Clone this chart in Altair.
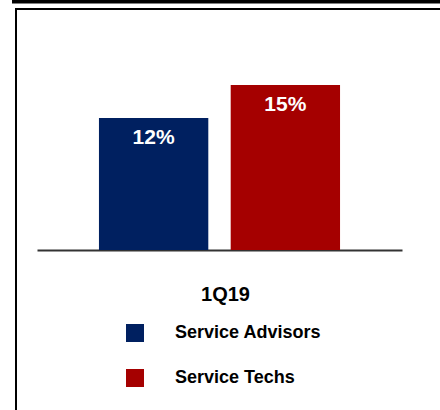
import altair as alt
import pandas as pd

periods = ["1Q19", "1Q19"]
series = ["Service Advisors", "Service Techs"]
values = [12, 15]
colors = ["#002060", "#A50000"]

df = pd.DataFrame({"period": periods, "series": series, "value": values})
df["label"] = [f"{v}%" for v in values]

FONT = "Liberation Sans"

base = alt.Chart(df)

x_enc = alt.X(
    "period:N",
    scale=alt.Scale(paddingInner=0, paddingOuter=0.257),
    axis=alt.Axis(
        title=None,
        ticks=False,
        domainColor="#333333",
        domainWidth=2,
        labelFont=FONT,
        labelFontSize=20,
        labelFontWeight="bold",
        labelColor="#000000",
        labelPadding=34,
        labelOffset=6,
        labelAngle=0,
    ),
)
xo_enc = alt.XOffset(
    "series:N",
    sort=series,
    scale=alt.Scale(paddingInner=0.17, paddingOuter=0),
)
y_enc = alt.Y(
    "value:Q",
    scale=alt.Scale(domain=[0, 20], nice=False, zero=True),
    axis=None,
)

bars = base.mark_bar().encode(
    x=x_enc,
    xOffset=xo_enc,
    y=y_enc,
    color=alt.Color(
        "series:N",
        sort=series,
        scale=alt.Scale(domain=series, range=colors),
        legend=alt.Legend(
            title=None,
            orient="none",
            legendX=89,
            legendY=294,
            direction="vertical",
            symbolType="square",
            symbolSize=324,
            symbolStrokeWidth=0,
            symbolOpacity=1,
            labelFont=FONT,
            labelFontSize=18,
            labelFontWeight="bold",
            labelColor="#000000",
            labelOffset=31,
            labelLimit=400,
            rowPadding=27,
            padding=0,
        ),
    ),
)

labels = base.mark_text(
    color="white",
    font=FONT,
    fontSize=21,
    fontWeight="bold",
    baseline="top",
    align="center",
    dy=9,
).encode(
    x=alt.X("period:N"),
    xOffset=alt.XOffset("series:N", sort=series),
    y=alt.Y("value:Q"),
    text="label:N",
)

one = alt.Data(values=[{"a": 1}])

top_bar = alt.Chart(one).mark_rule(color="#000000", strokeWidth=3.5).encode(
    x=alt.value(-25), x2=alt.value(403), y=alt.value(-28.3)
)
frame_top = alt.Chart(one).mark_rule(color="#000000", strokeWidth=2).encode(
    x=alt.value(-22), x2=alt.value(403), y=alt.value(-21)
)
frame_left = alt.Chart(one).mark_rule(color="#000000", strokeWidth=2).encode(
    x=alt.value(-21), y=alt.value(-22), y2=alt.value(380)
)

chart = (
    alt.layer(bars, labels, top_bar, frame_top, frame_left)
    .properties(
        width=365,
        height=220,
        autosize="none",
        padding={"left": 37, "right": 38, "top": 30, "bottom": 160},
        background="white",
    )
    .configure_view(stroke=None)
)

chart.save("out.html", embed_options={"renderer": "svg", "actions": False})
